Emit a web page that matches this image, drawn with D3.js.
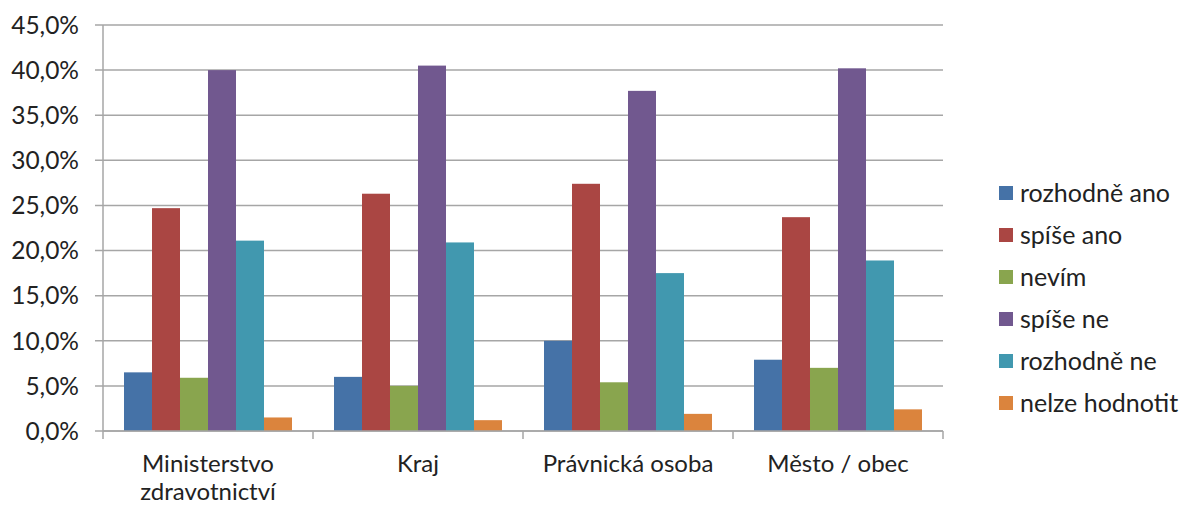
<!DOCTYPE html>
<html>
<head>
<meta charset="utf-8">
<script src="https://cdn.jsdelivr.net/npm/d3@7"></script>
<style>
  body { margin: 0; background: #fff; }
  text { font-family: Lato, "Open Sans", sans-serif; fill: #222; }
</style>
</head>
<body>
<script>
// skupinovy sloupcovy graf

var categories = ["Ministerstvo zdravotnictví", "Kraj", "Právnická osoba", "Město / obec"];
var seriesNames = ["rozhodně ano", "spíše ano", "nevím", "spíše ne", "rozhodně ne", "nelze hodnotit"];
var seriesColors = ["#4572A7", "#AA4643", "#89A54E", "#71588F", "#4198AF", "#DB843D"];

var rozhodneAno = [6.5, 6.0, 10.0, 7.9];
var spiseAno = [24.7, 26.3, 27.4, 23.7];
var nevim = [5.9, 5.0, 5.4, 7.0];
var spiseNe = [40.0, 40.5, 37.7, 40.2];
var rozhodneNe = [21.1, 20.9, 17.5, 18.9];
var nelzeHodnotit = [1.5, 1.2, 1.9, 2.4];

var yTicks = [0, 5, 10, 15, 20, 25, 30, 35, 40, 45];

var values = [rozhodneAno, spiseAno, nevim, spiseNe, rozhodneNe, nelzeHodnotit];

var width = 1179, height = 506;
var plotLeft = 103, plotRight = 943, plotTop = 25, plotBottom = 431;

var svg = d3.select("body").append("svg").attr("width", width).attr("height", height);

var x0 = d3.scaleBand().domain(categories).range([plotLeft, plotRight]).paddingInner(0.2).paddingOuter(0.1);
var x1 = d3.scaleBand().domain(seriesNames).range([0, x0.bandwidth()]);
var y = d3.scaleLinear().domain([0, 45]).range([plotBottom, plotTop]);

// mrizka
svg.append("g")
      .selectAll("line")
      .data(yTicks)
      .enter().append("line")
      .attr("x1", plotLeft - 8).attr("x2", plotRight)
      .attr("y1", function (d) { return y(d); })
      .attr("y2", function (d) { return y(d); })
      .attr("stroke", "#a6a6a6")
      .attr("stroke-width", 1.5);

svg.append("g")
      .selectAll("text")
      .data(yTicks)
      .enter().append("text")
      .attr("x", 79)
      .attr("y", function (d) { return y(d); })
      .attr("dy", "0.36em")
      .attr("text-anchor", "end")
      .style("font-size", "24.5px")
      .text(function (d) { return d.toFixed(1).replace(".", ",") + "%"; });

// sloupce
var groups = svg.append("g")
      .selectAll("g")
      .data(categories)
      .enter().append("g")
      .attr("transform", function (d) { return "translate(" + x0(d) + ",0)"; });

groups.selectAll("rect")
      .data(function (d, i) { return seriesNames.map(function (s, j) { return { s: s, v: values[j][i], c: seriesColors[j] }; }); })
      .enter().append("rect")
      .attr("x", function (d) { return x1(d.s); })
      .attr("width", x1.bandwidth())
      .attr("y", function (d) { return y(d.v); })
      .attr("height", function (d) { return plotBottom - y(d.v); })
      .attr("fill", function (d) { return d.c; });

// osy
svg.append("line")
      .attr("x1", plotLeft).attr("x2", plotLeft).attr("y1", plotTop).attr("y2", plotBottom)
      .attr("stroke", "#a6a6a6").attr("stroke-width", 1.5);
svg.append("line")
      .attr("x1", plotLeft).attr("x2", plotRight).attr("y1", plotBottom).attr("y2", plotBottom)
      .attr("stroke", "#a6a6a6").attr("stroke-width", 1.5);

var bounds = categories.map(function (c) { return x0(c) - x0.step() * x0.paddingInner() / 2; }).concat([plotRight]);
svg.append("g")
      .selectAll("line")
      .data(bounds)
      .enter().append("line")
      .attr("x1", function (d) { return d; }).attr("x2", function (d) { return d; })
      .attr("y1", plotBottom).attr("y2", plotBottom + 8)
      .attr("stroke", "#a6a6a6").attr("stroke-width", 1.5);

var catLabels = svg.append("g")
      .selectAll("text")
      .data(categories)
      .enter().append("text")
      .attr("x", function (d) { return x0(d) + x0.bandwidth() / 2; })
      .attr("y", 472)
      .attr("text-anchor", "middle")
      .style("font-size", "24px");

catLabels.each(function (d) {
      var lines = d === "Ministerstvo zdravotnictví" ? ["Ministerstvo", "zdravotnictví"] : [d];
      var t = d3.select(this);
      lines.forEach(function (l, i) {
            t.append("tspan").attr("x", x0(d) + x0.bandwidth() / 2).attr("dy", i === 0 ? 0 : 28).text(l);
      });
});

// legenda
var legend = svg.append("g")
      .selectAll("g")
      .data(seriesNames)
      .enter().append("g")
      .attr("transform", function (d, i) { return "translate(999," + (193 + i * 42) + ")"; });

legend.append("rect")
      .attr("x", 0).attr("y", -7)
      .attr("width", 14).attr("height", 14)
      .attr("fill", function (d, i) { return seriesColors[i]; });

legend.append("text")
      .attr("x", 21)
      .attr("dy", "0.36em")
      .style("font-size", "25px")
      .text(function (d) { return d; });
</script>
</body>
</html>
